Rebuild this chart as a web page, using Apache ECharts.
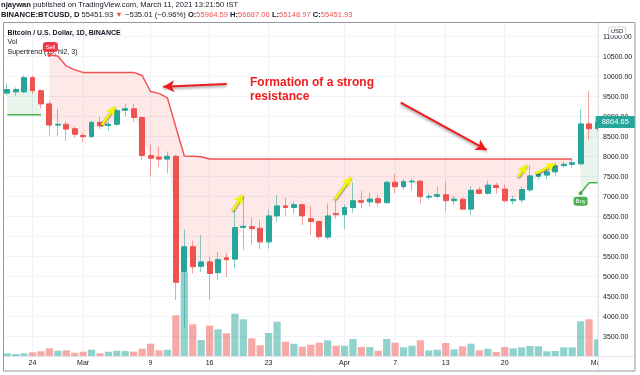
<!DOCTYPE html>
<html><head><meta charset="utf-8">
<script src="https://cdn.jsdelivr.net/npm/echarts/dist/echarts.min.js"></script>
<style>html,body{margin:0;padding:0;background:#fff}#c{width:640px;height:375px}</style>
</head><body><div id="c"></div>
<script>
const dates = ['2020-02-21','2020-02-22','2020-02-23','2020-02-24','2020-02-25','2020-02-26','2020-02-27','2020-02-28','2020-02-29',
'2020-03-01','2020-03-02','2020-03-03','2020-03-04','2020-03-05','2020-03-06','2020-03-07','2020-03-08','2020-03-09','2020-03-10',
'2020-03-11','2020-03-12','2020-03-13','2020-03-14','2020-03-15','2020-03-16','2020-03-17','2020-03-18','2020-03-19','2020-03-20',
'2020-03-21','2020-03-22','2020-03-23','2020-03-24','2020-03-25','2020-03-26','2020-03-27','2020-03-28','2020-03-29','2020-03-30','2020-03-31',
'2020-04-01','2020-04-02','2020-04-03','2020-04-04','2020-04-05','2020-04-06','2020-04-07','2020-04-08','2020-04-09','2020-04-10',
'2020-04-11','2020-04-12','2020-04-13','2020-04-14','2020-04-15','2020-04-16','2020-04-17','2020-04-18','2020-04-19','2020-04-20',
'2020-04-21','2020-04-22','2020-04-23','2020-04-24','2020-04-25','2020-04-26','2020-04-27','2020-04-28','2020-04-29','2020-04-30','2020-05-01'];
const opens = [9590,9620,9620,9975,9650,9320,8790,8810,8700,8530,
8500,8860,8780,8810,9160,9200,8980,8030,7990,7940,
8010,5130,5750,5260,5370,5100,5475,5440,6230,6250,
6210,5870,6520,6770,6730,6800,6450,6380,5990,6580,
6550,6730,6900,6870,6950,6850,7360,7250,7370,7390,
6990,7010,7050,6900,6935,6690,7170,7085,7280,7190,
6900,6920,7170,7510,7540,7620,7775,7810,7820,8820,8700];
const highs = [9830,9735,10040,10030,9680,9400,9200,8880,8750,8590,
8890,8990,8870,9200,9330,9320,9000,8300,8250,8130,
8050,6180,5900,6040,5500,5620,5590,6670,7000,6470,
6420,6680,7040,6970,6880,6830,6770,6400,6830,6900,
6800,7360,7150,7100,7050,7400,7570,7450,7450,7420,
7080,7250,7370,7025,6990,7260,7240,7400,7350,7300,
7025,7250,7790,7630,7710,7830,7880,7920,9190,9640,8950];
const lows = [9530,9520,9590,9560,9210,8520,8520,8400,8480,8360,
8480,8690,8650,8780,9000,8860,7920,7500,7750,7590,
4420,3710,5080,5120,4420,4920,4990,5210,5670,5800,
5690,5700,6380,6500,6580,6290,6040,5930,5930,6450,
6190,6600,6710,6750,6750,6830,7080,7170,7150,6830,
6920,6960,6630,6800,6670,6540,7050,7050,7080,6860,
6810,6850,7120,7420,7430,7520,7720,7720,7790,8420,8650];
const closes = [9680,9680,9975,9650,9320,8790,8810,8690,8560,8500,
8860,8770,8810,9150,9200,8980,8030,7960,7940,8010,
4860,5750,5250,5370,5080,5430,5425,6230,6260,6200,
5870,6520,6770,6730,6800,6520,6380,6000,6520,6550,
6730,6900,6860,6940,6850,7360,7250,7375,7390,7000,
7010,7050,6900,6940,6690,7160,7085,7290,7230,6900,
6930,7180,7520,7560,7620,7770,7810,7850,8820,8700,8864.65];
const volumes = [2.7,2,2.7,3.7,4.7,7.7,5.3,5.7,3.3,4.3,
6.3,2.7,4.3,5.3,5,4.3,7.3,12.3,5.7,6.3,
40.7,84,31.7,16,30.3,26.7,22.7,42.3,36.7,17.7,
10.7,23,34.3,14.3,12.3,9.3,11.3,13.3,15.7,10.3,
10.3,17,9,9,5.3,17,13.3,8.7,10.3,15.7,
5.7,6.3,13,6.7,9.7,12.3,5.7,7.3,4,9,
7.7,8.7,10,9.7,4.7,5,8.7,8.7,34.7,36.7,16.7];
const supertrend = [9050,9050,9050,9050,9050,10540,10520,10270,10170,10108,
10108,10108,10108,10108,10108,10108,10030,9630,9583,9470,
8740,8017,8010,8000,7942,7940,7940,7940,7940,7940,
7940,7940,7940,7940,7940,7940,7940,7940,7940,7940,
7940,7940,7940,7940,7940,7940,7940,7940,7940,7940,
7940,7940,7940,7940,7940,7940,7940,7940,7940,7940,
7940,7940,7940,7940,7940,7940,7940,7940,7085,7350,7350];
const trend = [1,1,1,1,1,-1,-1,-1,-1,-1,
-1,-1,-1,-1,-1,-1,-1,-1,-1,-1,
-1,-1,-1,-1,-1,-1,-1,-1,-1,-1,
-1,-1,-1,-1,-1,-1,-1,-1,-1,-1,
-1,-1,-1,-1,-1,-1,-1,-1,-1,-1,
-1,-1,-1,-1,-1,-1,-1,-1,-1,-1,
-1,-1,-1,-1,-1,-1,-1,-1,1,1,1];
const tickDates = ['2020-02-24','2020-03-01','2020-03-09','2020-03-16','2020-03-23','2020-04-01','2020-04-07','2020-04-13','2020-04-20','2020-05-01'];
const tickTexts = ['24','Mar','9','16','23','Apr','7','13','20','May'];
// annotation drawings in (day index, price) space: [x1, y1, x2, y2]
const redArrows = [[26.03,9817,18.51,9750],[46.67,9350,56.86,8168]];
const yellowArrows = [[11.21,8792,12.78,9250],[26.74,6650,27.93,7042],[38.87,6933,40.74,7485],[60.61,7500,61.61,7793],[62.71,7585,64.96,7818]];

const TEAL='#26a69a', RED='#ef5350', GREEN='#4caf50';
const FONT='"Liberation Sans", Arial, sans-serif';
const TXT='#131722';

const mids = opens.map((o,i)=>(o+closes[i])/2);
const pick = (cond, f) => supertrend.map((v,i)=> cond(i) ? f(v,i) : '-');
const isRed = i => trend[i] < 0, isGreen = i => trend[i] > 0;
const redBase = pick(isRed,(v,i)=>mids[i]);
const redDiff = pick(isRed,(v,i)=>v-mids[i]);
const greenBase = pick(isGreen,(v,i)=>mids[i]);
const greenDiff = pick(isGreen,(v,i)=>v-mids[i]);
const redLine = pick(isRed,v=>v);
const greenLine = pick(isGreen,v=>v);
const sellIdx = trend.findIndex((t,i)=>i>0 && t<0 && trend[i-1]>0);
const buyIdx = trend.findIndex((t,i)=>i>0 && t>0 && trend[i-1]<0);
const last = closes.length-1;

const chart = echarts.init(document.getElementById('c'));
const fillLine = (data, stack, area) => ({type:'line', xAxisIndex:0, yAxisIndex:0, stack, stackStrategy:'all', data, symbol:'none', showSymbol:false, silent:true, z:2,
  lineStyle:{opacity:0, width:0}, areaStyle: area ? {color:area, opacity:1} : undefined});

chart.setOption({
  animation:false,
  grid:[
    {left:3, right:38.3, top:16.7, bottom:18.3, outerBoundsMode:'none', containLabel:false},
    {left:3, right:38.3, top:256, bottom:19, outerBoundsMode:'none', containLabel:false}
  ],
  xAxis:[
    {type:'category', gridIndex:0, data:dates, boundaryGap:true, axisLine:{show:false}, axisTick:{show:false}, splitLine:{show:false},
      axisLabel:{interval:(i,v)=>tickDates.indexOf(v)>=0, formatter:v=>tickTexts[tickDates.indexOf(v)], fontSize:7, color:TXT, margin:3, fontFamily:FONT}},
    {type:'category', gridIndex:1, data:dates, boundaryGap:true, show:false},
    {type:'value', gridIndex:0, min:-0.5, max:dates.length-0.5, show:false}
  ],
  yAxis:[
    {type:'value', gridIndex:0, position:'right', min:3000, max:11500, interval:500, scale:false,
      axisLine:{show:false}, axisTick:{show:false},
      axisLabel:{fontSize:7, color:TXT, margin:1.3, fontFamily:FONT, showMinLabel:false, showMaxLabel:false, formatter:v=>v.toFixed(2)},
      splitLine:{show:true, lineStyle:{color:'#f0f3fa', width:1}}},
    {type:'value', gridIndex:1, min:0, max:100, show:false}
  ],
  series:[
    {type:'line', xAxisIndex:0, yAxisIndex:0, data:[], z:1, silent:true,
      markLine:{silent:true, z:1, symbol:['none','none'], label:{show:false}, lineStyle:{color:'#eef1f7', width:1, type:'solid'},
        data: tickDates.map(d=>({xAxis:d}))}},
    fillLine(redBase,'r',null),
    fillLine(redDiff,'r','rgba(239,83,80,0.13)'),
    fillLine(greenBase,'g',null),
    fillLine(greenDiff,'g','rgba(76,175,80,0.12)'),
    {type:'bar', xAxisIndex:1, yAxisIndex:1, z:3, barWidth:'86%', silent:true,
      data: volumes.map((v,i)=>({value:v, itemStyle:{color: closes[i]>opens[i] ? 'rgba(38,166,154,0.5)' : 'rgba(239,83,80,0.5)'}}))},
    {type:'line', xAxisIndex:0, yAxisIndex:0, data:redLine, symbol:'none', z:4, silent:true, lineStyle:{color:'#f05252', width:1.5},
      markPoint:{silent:true, z:8, data:[
        {coord:[dates[sellIdx], supertrend[sellIdx]], symbol:'circle', symbolSize:4, itemStyle:{color:RED}, label:{show:false}},
        {coord:[dates[sellIdx], supertrend[sellIdx]], symbol:'roundRect', symbolSize:[15,10], symbolOffset:[1,-8], itemStyle:{color:'#f23645'},
          label:{show:true, position:'inside', formatter:'Sell', color:'#fff', fontSize:6, fontFamily:FONT}}]}},
    {type:'line', xAxisIndex:0, yAxisIndex:0, data:greenLine, symbol:'none', z:4, silent:true, lineStyle:{color:GREEN, width:1.5},
      markPoint:{silent:true, z:8, data:[
        {coord:[dates[buyIdx], supertrend[buyIdx]], symbol:'circle', symbolSize:4, itemStyle:{color:GREEN}, label:{show:false}},
        {coord:[dates[buyIdx], supertrend[buyIdx]], symbol:'roundRect', symbolSize:[14,9], symbolOffset:[0,8], itemStyle:{color:GREEN},
          label:{show:true, position:'inside', formatter:'Buy', color:'#fff', fontSize:6, fontFamily:FONT}}]}},
    {type:'candlestick', xAxisIndex:0, yAxisIndex:0, z:6, barWidth:1, silent:true,
      data: dates.map((d,i)=>[opens[i],closes[i],lows[i],highs[i]]),
      itemStyle:{color:'rgba(38,166,154,0.55)', color0:'rgba(239,83,80,0.55)', borderColor:'rgba(38,166,154,0.55)', borderColor0:'rgba(239,83,80,0.55)', borderWidth:1}},
    {type:'candlestick', xAxisIndex:0, yAxisIndex:0, z:7, barWidth:'64%', silent:true,
      data: dates.map((d,i)=>[opens[i],closes[i],Math.min(opens[i],closes[i]),Math.max(opens[i],closes[i])]),
      itemStyle:{color:TEAL, color0:RED, borderColor:TEAL, borderColor0:RED, borderWidth:1}},
    {type:'line', xAxisIndex:2, yAxisIndex:0, data:[], z:20, silent:true,
      markLine:{silent:true, z:20, symbol:['none','arrow'], symbolSize:[9,11], label:{show:false},
        lineStyle:{color:'#ee1c1c', width:2, type:'solid', shadowColor:'rgba(0,0,0,0.45)', shadowBlur:3, shadowOffsetY:1.5},
        data: redArrows.map(a=>[{coord:[a[0],a[1]]},{coord:[a[2],a[3]]}])}},
    {type:'line', xAxisIndex:2, yAxisIndex:0, data:[], z:20, silent:true,
      markLine:{silent:true, z:20, symbol:['none','arrow'], symbolSize:[8,9], label:{show:false},
        lineStyle:{color:'#f5f500', width:2.5, type:'solid', shadowColor:'rgba(0,0,0,0.6)', shadowBlur:2, shadowOffsetY:1},
        data: yellowArrows.map(a=>[{coord:[a[0],a[1]]},{coord:[a[2],a[3]]}])}},
    {type:'line', xAxisIndex:2, yAxisIndex:0, data:[], z:25, silent:true,
      markLine:{silent:true, z:25, symbol:['none','none'], lineStyle:{color:'rgba(0,0,0,0)', width:1, type:'solid'},
        label:{show:true, position:'end', distance:-6, formatter: closes[last].toFixed(2), backgroundColor:TEAL, color:'#fff', fontSize:7.5, fontFamily:FONT, padding:[2,6,2,6]},
        data:[{yAxis: closes[last]}]}}
  ],
  graphic:[
    {type:'rect', z:10, silent:true, shape:{x:0,y:0,width:640,height:21.5}, style:{fill:'#fff'}},
    {type:'rect', z:10, silent:true, shape:{x:598.5,y:21.5,width:4.3,height:335}, style:{fill:'#fff'}},
    {type:'rect', z:10, silent:true, shape:{x:598.5,y:357,width:8,height:14}, style:{fill:'#fff'}},
    {type:'line', z:12, silent:true, shape:{x1:598.5,y1:22.5,x2:598.5,y2:371}, style:{stroke:'#e0e3eb', lineWidth:1}},
    {type:'line', z:12, silent:true, shape:{x1:3.5,y1:356.5,x2:635,y2:356.5}, style:{stroke:'#e0e3eb', lineWidth:1}},
    {type:'rect', z:12, silent:true, shape:{x:3.5,y:22.5,width:631.5,height:348.5}, style:{fill:'none', stroke:'#9598a1', lineWidth:1}},
    {type:'rect', z:12, silent:true, shape:{x:608.5,y:27,width:17,height:8.5,r:2}, style:{fill:'#fff', stroke:'#c8cbd3', lineWidth:0.8}},
    {type:'text', z:13, silent:true, x:617, y:31.3, style:{text:'USD', fontSize:6, fontFamily:FONT, fill:TXT, align:'center', verticalAlign:'middle'}},
    {type:'text', z:13, silent:true, x:1, y:5, style:{text:'{b|njaywan} published on TradingView.com, March 11, 2021 13:21:50 IST',
      fontSize:7.6, fontFamily:FONT, fill:TXT, verticalAlign:'middle', rich:{b:{fontWeight:'bold', fontSize:7.6, fontFamily:FONT, fill:TXT}}}},
    {type:'text', z:13, silent:true, x:1, y:15, style:{text:'{b|BINANCE:BTCUSD, D} 55451.93 {r|▼} −535.01 (−0.96%) {b|O:}{r|55984.59} {b|H:}{r|56687.06} {b|L:}{r|55148.97} {b|C:}{r|55451.93}',
      fontSize:7.6, fontFamily:FONT, fill:TXT, verticalAlign:'middle',
      rich:{b:{fontWeight:'bold', fontSize:7.6, fontFamily:FONT, fill:TXT}, r:{fontSize:7.6, fontFamily:FONT, fill:RED}}}},
    {type:'text', z:7.5, silent:true, x:7.5, y:33.3, style:{text:'Bitcoin / U.S. Dollar, 1D, BINANCE', fontSize:7, fontWeight:'bold', fontFamily:FONT, fill:TXT, verticalAlign:'middle'}},
    {type:'text', z:7.5, silent:true, x:7.5, y:42.5, style:{text:'Vol', fontSize:7, fontFamily:FONT, fill:TXT, verticalAlign:'middle'}},
    {type:'text', z:7.5, silent:true, x:7.5, y:51.8, style:{text:'Supertrend (10, hl2, 3)', fontSize:7, fontFamily:FONT, fill:TXT, verticalAlign:'middle'}},
    {type:'text', z:21, silent:true, x:250, y:76.3, style:{text:'Formation of a strong\nresistance', fontSize:12, fontWeight:'bold', lineHeight:13.5, fontFamily:FONT, fill:'#ee1c1c', verticalAlign:'top'}}
  ]
});
</script></body></html>
